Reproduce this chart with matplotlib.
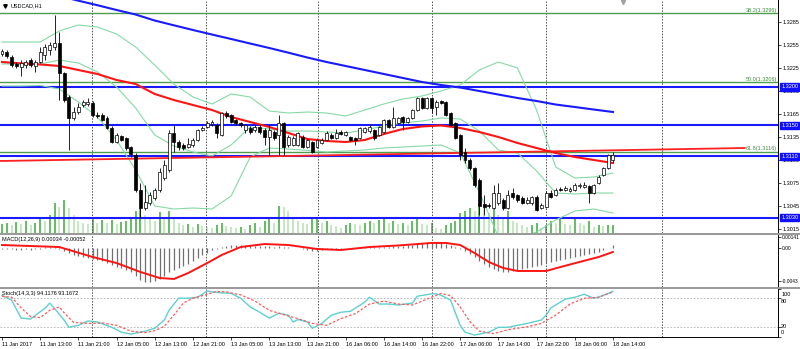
import matplotlib
matplotlib.use("Agg")
import matplotlib.pyplot as plt
import numpy as np
from matplotlib.patches import Rectangle

plt.rcParams['font.family'] = ['Liberation Sans', 'DejaVu Sans']

# ---- data: USDCAD H1, 129 bars ----
opens = [1.32428, 1.32454, 1.32389, 1.32298, 1.32259, 1.32285, 1.32350, 1.32272, 1.32324, 1.32415,
         1.32480, 1.32519, 1.32571, 1.32181, 1.31869, 1.31596, 1.31674, 1.31765, 1.31778, 1.31791,
         1.31635, 1.31635, 1.31596, 1.31466, 1.31284, 1.31362, 1.31336, 1.31219, 1.31115, 1.30660,
         1.30426, 1.30491, 1.30556, 1.30660, 1.30816, 1.30920, 1.31401, 1.31284, 1.31245, 1.31219,
         1.31245, 1.31310, 1.31440, 1.31479, 1.31518, 1.31505, 1.31375, 1.31661, 1.31635, 1.31570,
         1.31531, 1.31440, 1.31466, 1.31440, 1.31479, 1.31440, 1.31349, 1.31414, 1.31375, 1.31531,
         1.31245, 1.31245, 1.31245, 1.31349, 1.31219, 1.31284, 1.31219, 1.31271, 1.31310, 1.31375,
         1.31336, 1.31414, 1.31375, 1.31349, 1.31336, 1.31336, 1.31414, 1.31427, 1.31440, 1.31375,
         1.31414, 1.31570, 1.31479, 1.31531, 1.31609, 1.31544, 1.31596, 1.31700, 1.31856, 1.31726,
         1.31856, 1.31739, 1.31817, 1.31804, 1.31661, 1.31531, 1.31375, 1.31154, 1.31050, 1.30946,
         1.30790, 1.30478, 1.30465, 1.30426, 1.30491, 1.30530, 1.30426, 1.30621, 1.30595, 1.30556,
         1.30491, 1.30491, 1.30569, 1.30426, 1.30439, 1.30621, 1.30595, 1.30673, 1.30660, 1.30647,
         1.30660, 1.30712, 1.30699, 1.30712, 1.30621, 1.30751, 1.30855, 1.30946, 1.31050]
closes = [1.32467, 1.32402, 1.32285, 1.32272, 1.32311, 1.32324, 1.32285, 1.32324, 1.32454, 1.32519,
          1.32545, 1.32571, 1.32181, 1.31830, 1.31596, 1.31674, 1.31739, 1.31804, 1.31804, 1.31635,
          1.31622, 1.31570, 1.31466, 1.31284, 1.31375, 1.31310, 1.31206, 1.31128, 1.30660, 1.30426,
          1.30504, 1.30595, 1.30660, 1.30894, 1.30985, 1.31401, 1.31284, 1.31219, 1.31206, 1.31258,
          1.31310, 1.31440, 1.31466, 1.31531, 1.31544, 1.31401, 1.31661, 1.31622, 1.31544, 1.31531,
          1.31505, 1.31505, 1.31414, 1.31479, 1.31414, 1.31349, 1.31440, 1.31336, 1.31531, 1.31219,
          1.31349, 1.31336, 1.31401, 1.31219, 1.31310, 1.31154, 1.31310, 1.31310, 1.31401, 1.31336,
          1.31401, 1.31388, 1.31414, 1.31310, 1.31310, 1.31466, 1.31466, 1.31479, 1.31336, 1.31479,
          1.31570, 1.31479, 1.31596, 1.31596, 1.31544, 1.31596, 1.31700, 1.31856, 1.31726, 1.31856,
          1.31726, 1.31804, 1.31791, 1.31635, 1.31505, 1.31336, 1.31115, 1.31050, 1.30946, 1.30725,
          1.30452, 1.30439, 1.30452, 1.30621, 1.30621, 1.30426, 1.30595, 1.30569, 1.30530, 1.30491,
          1.30530, 1.30569, 1.30400, 1.30465, 1.30621, 1.30569, 1.30660, 1.30660, 1.30686, 1.30673,
          1.30725, 1.30725, 1.30725, 1.30621, 1.30725, 1.30829, 1.30946, 1.31115, 1.31115]
highs = [1.32493, 1.32480, 1.32415, 1.32324, 1.32350, 1.32350, 1.32376, 1.32350, 1.32519, 1.32558,
         1.32584, 1.32935, 1.32714, 1.32194, 1.31895, 1.31739, 1.31791, 1.31830, 1.31856, 1.31817,
         1.31674, 1.31661, 1.31622, 1.31492, 1.31401, 1.31375, 1.31349, 1.31232, 1.31141, 1.30751,
         1.30725, 1.30634, 1.30686, 1.30946, 1.31050, 1.31440, 1.31505, 1.31310, 1.31271, 1.31336,
         1.31336, 1.31453, 1.31492, 1.31557, 1.31570, 1.31531, 1.31674, 1.31687, 1.31648, 1.31583,
         1.31544, 1.31518, 1.31492, 1.31505, 1.31505, 1.31466, 1.31505, 1.31440, 1.31635, 1.31544,
         1.31375, 1.31362, 1.31414, 1.31375, 1.31323, 1.31297, 1.31336, 1.31336, 1.31427, 1.31401,
         1.31453, 1.31440, 1.31427, 1.31362, 1.31349, 1.31479, 1.31479, 1.31505, 1.31453, 1.31492,
         1.31583, 1.31583, 1.31739, 1.31609, 1.31622, 1.31609, 1.31713, 1.31869, 1.31869, 1.31869,
         1.31869, 1.31830, 1.31830, 1.31817, 1.31674, 1.31544, 1.31388, 1.31206, 1.31076, 1.30959,
         1.30816, 1.30595, 1.30491, 1.30725, 1.30751, 1.30556, 1.30660, 1.30686, 1.30608, 1.30582,
         1.30569, 1.30582, 1.30595, 1.30491, 1.30647, 1.30660, 1.30686, 1.30699, 1.30712, 1.30699,
         1.30751, 1.30751, 1.30764, 1.30725, 1.30738, 1.30855, 1.30959, 1.31128, 1.31154]
lows = [1.32402, 1.32376, 1.32259, 1.32246, 1.32142, 1.32246, 1.32259, 1.32194, 1.32311, 1.32350,
        1.32415, 1.32480, 1.31830, 1.31804, 1.31180, 1.31570, 1.31648, 1.31739, 1.31752, 1.31609,
        1.31596, 1.31557, 1.31453, 1.31271, 1.31271, 1.31297, 1.31180, 1.31089, 1.30634, 1.30296,
        1.30400, 1.30465, 1.30530, 1.30634, 1.30790, 1.30894, 1.31154, 1.31180, 1.31180, 1.31206,
        1.31219, 1.31297, 1.31427, 1.31466, 1.31492, 1.31336, 1.31362, 1.31596, 1.31531, 1.31505,
        1.31479, 1.31401, 1.31388, 1.31414, 1.31388, 1.31245, 1.31115, 1.31310, 1.31115, 1.31115,
        1.31219, 1.31232, 1.31232, 1.31206, 1.31206, 1.31141, 1.31206, 1.31258, 1.31297, 1.31323,
        1.31323, 1.31375, 1.31362, 1.31297, 1.31245, 1.31323, 1.31401, 1.31401, 1.31310, 1.31362,
        1.31401, 1.31466, 1.31466, 1.31518, 1.31440, 1.31531, 1.31583, 1.31687, 1.31713, 1.31713,
        1.31661, 1.31635, 1.31778, 1.31622, 1.31492, 1.31323, 1.31050, 1.31011, 1.30920, 1.30699,
        1.30335, 1.30335, 1.30426, 1.30413, 1.30465, 1.30400, 1.30413, 1.30543, 1.30504, 1.30478,
        1.30478, 1.30465, 1.30387, 1.30413, 1.30426, 1.30556, 1.30582, 1.30647, 1.30647, 1.30634,
        1.30647, 1.30686, 1.30686, 1.30491, 1.30608, 1.30738, 1.30842, 1.30933, 1.31024]
volumes = [9, 10, 8, 11, 9, 12, 8, 10, 14, 12,
           18, 30, 26, 33, 25, 18, 12, 10, 9, 14,
           10, 13, 10, 13, 9, 11, 12, 15, 22, 25,
           18, 15, 12, 21, 15, 22, 16, 10, 8, 9,
           6, 9, 7, 6, 5, 8, 10, 7, 6, 5,
           6, 4, 8, 10, 6, 12, 14, 10, 27, 26,
           22, 15, 12, 10, 9, 14, 15, 10, 12, 8,
           7, 5, 8, 10, 9, 8, 10, 12, 10, 13,
           14, 10, 12, 9, 10, 8, 12, 15, 9, 8,
           10, 5, 4, 8, 10, 12, 20, 22, 25, 22,
           30, 28, 20, 25, 18, 15, 22, 12, 10, 8,
           6, 8, 10, 5, 8, 12, 10, 14, 9, 8,
           14, 10, 8, 12, 6, 8, 7, 8, 8]

# indicator lines read every 4 bars
line_idx = np.arange(0, 129, 4)
ma_red = [1.32324, 1.32306, 1.32292, 1.32272, 1.32220, 1.32168, 1.32090, 1.32038, 1.31908, 1.31830,
          1.31765, 1.31700, 1.31609, 1.31544, 1.31479, 1.31401, 1.31323, 1.31297, 1.31284, 1.31310,
          1.31388, 1.31453, 1.31486, 1.31499, 1.31466, 1.31414, 1.31349, 1.31271, 1.31206, 1.31141,
          1.31089, 1.31050, 1.31011]
ma_blue = [1.33364, 1.33299, 1.33240, 1.33182, 1.33121, 1.33062, 1.33000, 1.32941, 1.32863, 1.32801,
           1.32740, 1.32681, 1.32623, 1.32564, 1.32506, 1.32445, 1.32382, 1.32324, 1.32272, 1.32220,
           1.32168, 1.32116, 1.32064, 1.32025, 1.31992, 1.31947, 1.31901, 1.31856, 1.31817, 1.31771,
           1.31739, 1.31706, 1.31674]
bb_upper = [1.32584, 1.32584, 1.32584, 1.32727, 1.32805, 1.32779, 1.32688, 1.32519, 1.32285, 1.32038,
            1.31869, 1.31778, 1.31908, 1.31869, 1.31687, 1.31661, 1.31674, 1.31661, 1.31622, 1.31700,
            1.31778, 1.31843, 1.31882, 1.31947, 1.32025, 1.32220, 1.32324, 1.32246, 1.31700, 1.30959,
            1.30816, 1.30829, 1.30881]
bb_mid = [1.32298, 1.32298, 1.32298, 1.32350, 1.32311, 1.32194, 1.31999, 1.31726, 1.31375, 1.31232,
          1.31154, 1.31102, 1.31245, 1.31479, 1.31453, 1.31427, 1.31427, 1.31414, 1.31401, 1.31440,
          1.31492, 1.31531, 1.31557, 1.31596, 1.31583, 1.31427, 1.31180, 1.31141, 1.30907, 1.30621,
          1.30608, 1.30621, 1.30621]
bb_lower = [1.32012, 1.32012, 1.32019, 1.31973, 1.31804, 1.31609, 1.31310, 1.30920, 1.30452, 1.30413,
            1.30426, 1.30413, 1.30582, 1.31089, 1.31206, 1.31193, 1.31174, 1.31154, 1.31167, 1.31180,
            1.31206, 1.31219, 1.31232, 1.31245, 1.31141, 1.30634, 1.30049, 1.30036, 1.30114, 1.30270,
            1.30387, 1.30413, 1.30361]

trend_x = [-0.4, 155.6]
trend_y = [1.31037, 1.31206]

levels = [1.3200, 1.3150, 1.3110, 1.3030]
fib_levels = [1.3296, 1.3206, 1.3116]
fib_names = ['38.2(1.3296)', '50.0(1.3206)', '61.8(1.3116)']
price_ticks = [1.3285, 1.3255, 1.3225, 1.3195, 1.3165, 1.3135, 1.3105, 1.3075, 1.3045, 1.3015]

# MACD (12,26,9), units of 1e-4
macd_main = np.array([
    -1.3, -1.3, -1.3, -2.0, -2.0, -1.3, -2.0, -1.3, -0.7, 0.7,
    1.3, 0.7, -1.3, -3.9, -6.6, -9.2, -10.5, -11.8, -13.1, -14.4,
    -15.7, -17.0, -19.7, -22.3, -24.9, -26.2, -28.8, -31.4, -36.7, -41.9,
    -44.5, -44.5, -43.2, -40.6, -36.7, -31.4, -28.8, -26.2, -23.6, -21.0,
    -17.0, -13.1, -9.2, -6.6, -2.6, -1.3, 1.3, 2.6, 3.3, 3.9,
    3.9, 3.9, 3.3, 2.6, 2.6, 2.0, 2.0, 1.3, 2.0, 0.7,
    0.7, 0.0, 0.0, -1.3, -2.0, -3.3, -3.3, -2.6, -1.3, -1.3,
    -0.7, -0.7, 0.0, 0.0, 0.0, 0.7, 0.7, 0.7, 0.7, 1.3,
    1.3, 1.3, 2.0, 2.6, 2.6, 3.3, 3.9, 5.2, 5.9, 6.6,
    7.2, 6.6, 5.9, 5.2, 3.9, 1.3, -1.3, -3.9, -7.9, -11.8,
    -17.0, -21.0, -24.9, -27.5, -29.5, -31.0, -31.0, -30.1, -28.8, -27.5,
    -26.2, -24.9, -23.6, -22.3, -19.7, -18.3, -17.0, -15.7, -14.4, -13.1,
    -11.8, -10.5, -9.2, -7.9, -6.6, -5.2, -2.6, 0.0, 3.4]) * 1e-4
sig_idx = [0, 12, 19, 24, 29, 33, 36, 39, 43, 46, 50, 55, 60, 66, 71, 77, 83, 90, 93, 96,
           99, 102, 105, 108, 114, 117, 121, 125, 128]
sig_vals = np.array([3.9, 1.3, -11.8, -19.7, -31.4, -39.3, -40.6, -32.8, -19.7, -9.2,
                     1.3, 5.2, 3.9, -1.3, -2.6, 1.3, 3.3, 6.6, 6.6, 3.9,
                     -6.6, -18.3, -26.2, -30.1, -30.1, -24.9, -18.3, -11.8, -5.2]) * 1e-4

# Stochastic (14,3,3)
k_idx = [0, 2, 4, 6, 7, 9, 10, 11, 13, 14, 16, 18, 20, 23, 25, 27, 30, 32, 34, 35,
         37, 39, 41, 43, 44, 46, 48, 50, 52, 54, 56, 58, 60, 61, 62, 64, 65, 67, 69, 71,
         73, 76, 77, 79, 81, 83, 86, 87, 90, 91, 92, 94, 95, 96, 97, 99, 100, 102, 104, 106,
         108, 110, 113, 114, 115, 117, 118, 120, 122, 124, 125, 127, 128]
k_vals = [86, 76, 39, 37, 45, 59, 70, 59, 35, 20, 24, 33, 31, 20, 10, 6, 12, 18, 35, 55,
          80, 80, 82, 95, 93, 91, 90, 80, 62, 51, 39, 49, 45, 31, 36, 31, 18, 28, 45, 51,
          53, 72, 82, 68, 68, 66, 70, 84, 89, 89, 86, 76, 49, 24, 10, 4, 6, 10, 20, 20,
          24, 28, 35, 45, 60, 72, 78, 82, 88, 80, 82, 90, 94]
d_idx = [0, 2, 4, 6, 8, 10, 12, 13, 15, 18, 21, 24, 27, 30, 32, 34, 36, 38, 40, 43,
         45, 47, 50, 53, 56, 59, 62, 65, 68, 71, 74, 77, 80, 83, 86, 90, 92, 94, 96, 98,
         100, 103, 106, 110, 113, 116, 119, 122, 125, 128]
d_vals = [84, 82, 60, 42, 40, 55, 62, 50, 30, 28, 29, 24, 12, 9, 13, 22, 45, 70, 80, 88,
          94, 93, 87, 74, 55, 46, 38, 28, 24, 38, 48, 68, 74, 68, 66, 82, 90, 85, 62, 32,
          12, 7, 15, 21, 28, 45, 68, 80, 82, 93]

date_labels = ['11 Jan 2017', '11 Jan 13:00', '11 Jan 21:00', '12 Jan 05:00', '12 Jan 13:00',
               '12 Jan 21:00', '13 Jan 05:00', '13 Jan 13:00', '13 Jan 21:00', '16 Jan 06:00',
               '16 Jan 14:00', '16 Jan 22:00', '17 Jan 06:00', '17 Jan 14:00', '17 Jan 22:00',
               '18 Jan 06:00', '18 Jan 14:00']
label_idx = np.arange(0, 129, 8)
grid_idx = [18.9, 42.7, 66.2, 90.1, 114.0, 138.3]

# ---- layout (pixel based) ----
W, H = 800, 349
fig = plt.figure(figsize=(W / 100, H / 100), dpi=100)
fig.patch.set_facecolor('white')


def px_axes(x0, y0, x1, y1, **kw):
    return fig.add_axes([x0 / W, 1 - y1 / H, (x1 - x0) / W, (y1 - y0) / H], **kw)


PX_BAR = 4.773
XR = 778
xmin, xmax = -2 / PX_BAR, (XR - 2) / PX_BAR

ax_vol = px_axes(0, 0, XR, 233)
ax = px_axes(0, 0, XR, 233)
ax.set_facecolor('none')
ax_macd = px_axes(0, 235, XR, 287)
ax_sto = px_axes(0, 288.5, XR, 337)

idx = np.arange(len(opens))
o, c, h, l = map(np.array, (opens, closes, highs, lows))

# volumes
vol = np.array(volumes)
vcol = ['#3caa3c' if i == 0 or vol[i] >= vol[i - 1] else '#b4e2b0' for i in range(len(vol))]
ax_vol.vlines(idx, 0, vol, colors=vcol, lw=1.1)
ax_vol.set_xlim(xmin, xmax)
ax_vol.set_ylim(0, 233)
ax_vol.axis('off')

# main price panel
for g in grid_idx:
    for a in (ax, ax_macd, ax_sto):
        a.axvline(g, color='#505050', ls=(0, (1.5, 1.5)), lw=0.7, zorder=1)

for lv in fib_levels:
    ax.axhline(lv, color='#4e9e4e', lw=1.0, zorder=2)
for lv, name in zip(fib_levels, fib_names):
    ax.text(0.9985, lv + 0.00003, name, transform=ax.get_yaxis_transform(), ha='right',
            va='bottom', fontsize=4, color='#3e8e3e')
for lv in levels:
    ax.axhline(lv, color='#1a1aff', lw=1.5, zorder=2)
    ax.text(1.004, lv, '%.4f' % lv, transform=ax.get_yaxis_transform(), ha='left',
            va='center', fontsize=4, color='white', clip_on=False,
            bbox=dict(boxstyle='square,pad=0.2', fc='#1010ff', ec='#1010ff'))

ax.plot(line_idx, bb_upper, color='#86d9a6', lw=0.8, zorder=3)
ax.plot(line_idx, bb_mid, color='#86d9a6', lw=0.8, zorder=3)
ax.plot(line_idx, bb_lower, color='#86d9a6', lw=0.8, zorder=3)
ax.plot(trend_x, trend_y, color='#ff2020', lw=1.3, zorder=3)
ax.plot(line_idx, ma_blue, color='#1a1aff', lw=1.5, zorder=4)
ax.plot(line_idx, ma_red, color='#ff1414', lw=1.5, zorder=4)

ax.vlines(idx, l, h, color='black', lw=0.6, zorder=5)
body_lo = np.minimum(o, c)
body_h = np.maximum(np.abs(c - o), 0.00002)
face = ['white' if cc >= oo else 'black' for oo, cc in zip(o, c)]
ax.bar(idx, body_h, bottom=body_lo, width=0.62, color=face, edgecolor='black', lw=0.5, zorder=6)

ax.set_xlim(xmin, xmax)
ax.set_ylim(1.3313 - 233 * 0.00013, 1.3313)
ax.set_xticks([])
ax.yaxis.tick_right()
ax.set_yticks(price_ticks)
ax.set_yticklabels(['%.4f' % p for p in price_ticks])
ax.tick_params(axis='y', length=2, width=0.5, pad=1.5, labelsize=4)
for s in ('left', 'top', 'bottom'):
    ax.spines[s].set_visible(False)
ax.spines['right'].set_linewidth(0.7)

ax.text(11 / XR, 1 - 6 / 233, 'USDCAD,H1', transform=ax.transAxes, fontsize=4, va='center')
ax.plot([5 / XR], [1 - 6 / 233], marker='v', color='black', ms=2.5, transform=ax.transAxes,
        clip_on=False)
ax.plot([623 / XR], [1 - 2 / 233], marker='v', color='#a0a0a0', ms=3, transform=ax.transAxes,
        clip_on=False)

# MACD panel
ax_macd.vlines(idx, 0, macd_main, color='#707070', lw=0.9, zorder=2)
ax_macd.plot(sig_idx, sig_vals, color='#ff1414', lw=1.4, zorder=3)
ax_macd.set_xlim(xmin, xmax)
ax_macd.set_ylim(-39 * 0.000131, 13 * 0.000131)
ax_macd.set_xticks([])
ax_macd.yaxis.tick_right()
ax_macd.set_yticks([0.00141, 0.0, -0.0043])
ax_macd.set_yticklabels(['0.00141', '0.00', '-0.0043'])
ax_macd.tick_params(axis='y', length=2, width=0.5, pad=1.0, labelsize=3.5)
for s in ('left', 'top', 'bottom'):
    ax_macd.spines[s].set_visible(False)
ax_macd.spines['right'].set_linewidth(0.7)
ax_macd.text(2 / XR, 1 - 5 / 52, 'MACD(12,26,9) 0.00034 -0.00052', transform=ax_macd.transAxes,
             fontsize=4, va='center')

# Stochastic panel
for lv in (20, 80):
    ax_sto.axhline(lv, color='#b0b0b0', ls=(0, (2, 2)), lw=0.6, zorder=1)
ax_sto.plot(k_idx, k_vals, color='#5fcfcf', lw=1.0, zorder=3)
ax_sto.plot(d_idx, d_vals, color='#ff5a5a', lw=0.9, ls=(0, (2, 1.5)), zorder=3)
ax_sto.set_xlim(xmin, xmax)
ax_sto.set_ylim(0, 100)
ax_sto.yaxis.tick_right()
ax_sto.set_yticks([100, 80, 20, 0])
ax_sto.set_yticklabels([])
ax_sto.tick_params(axis='y', length=2, width=0.5)
sto_lab_y = {'100': 295, '80': 301.5, '20': 326, '0': 332}
for txt, ypx in sto_lab_y.items():
    ax_sto.text(1.004, (337 - ypx) / 48.5, txt, transform=ax_sto.transAxes, ha='left',
                va='center', fontsize=4, clip_on=False)
ax_sto.set_xticks(label_idx)
ax_sto.set_xticklabels(date_labels, ha='left')
ax_sto.tick_params(axis='x', length=2, width=0.5, pad=1.5, labelsize=4)
for s in ('left', 'top'):
    ax_sto.spines[s].set_visible(False)
ax_sto.spines['right'].set_linewidth(0.7)
ax_sto.spines['bottom'].set_linewidth(0.7)
ax_sto.text(2 / XR, 1 - 5 / 48.5, 'Stoch(14,3,3) 94.1176 93.1672', transform=ax_sto.transAxes,
            fontsize=4, va='center')

# panel separators
for y0, y1 in ((233, 235), (287, 288.5)):
    fig.patches.append(Rectangle((0, 1 - y1 / H), 1, (y1 - y0) / H, transform=fig.transFigure,
                                 fc='#9a9a9a', ec='none'))

fig.savefig('out.png', dpi=100)
